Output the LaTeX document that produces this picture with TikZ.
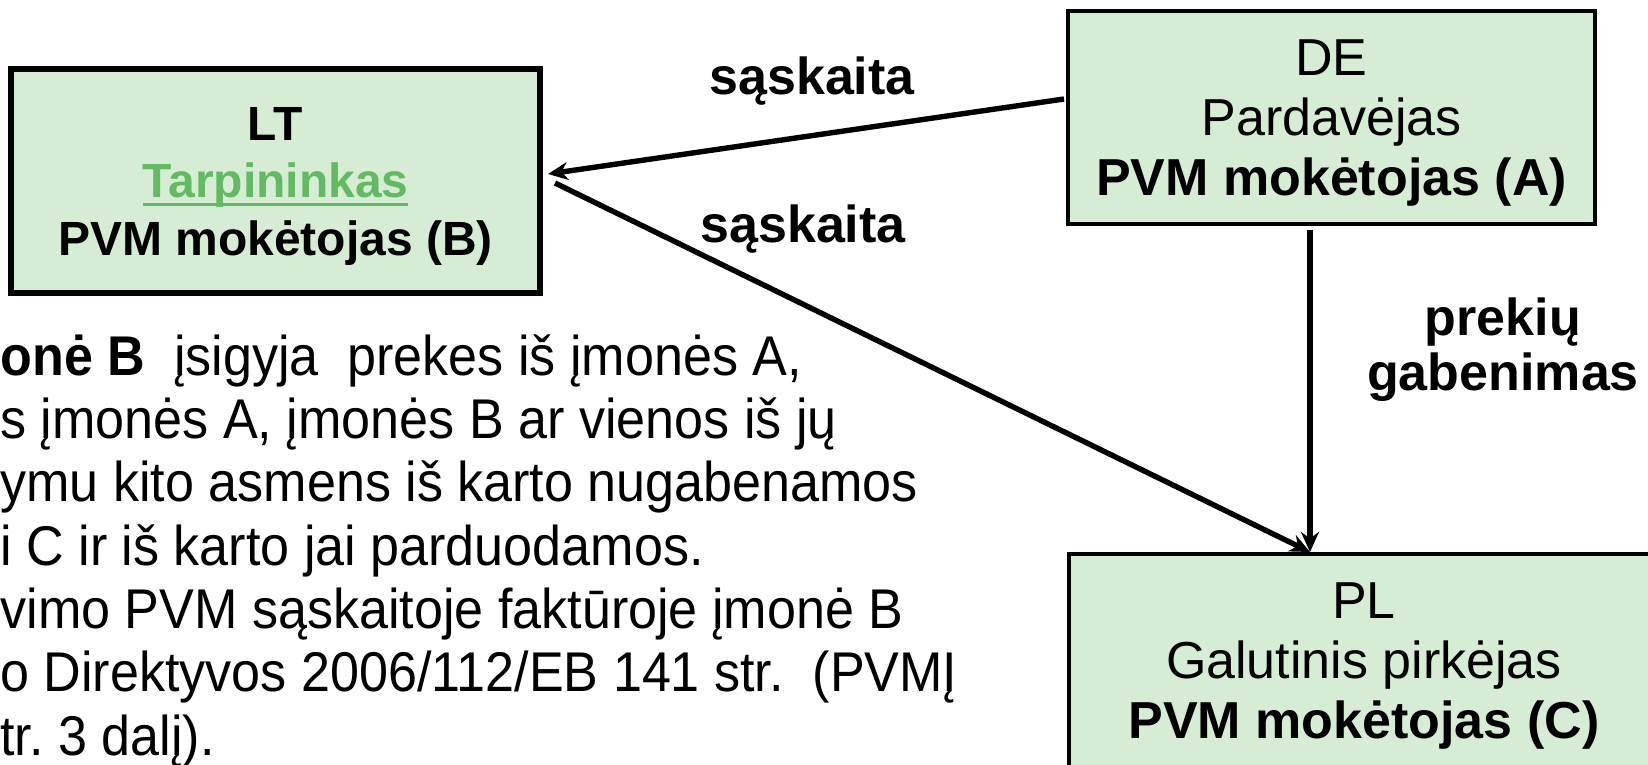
\documentclass[tikz,border=0pt]{standalone}
\usepackage{fontspec}
\setmainfont{Liberation Sans}
\newfontfamily\narrowfont[FakeStretch=0.93]{Liberation Sans}
\usetikzlibrary{arrows.meta}
\definecolor{boxgreen}{RGB}{214,236,212}
\definecolor{midgreen}{RGB}{98,187,98}
\newsavebox\ulbox
\newcommand\greenline[1]{\sbox\ulbox{#1}\rlap{\rule[-4pt]{\wd\ulbox}{1.5pt}}\usebox\ulbox}
\tikzset{
  party/.style={draw,fill=boxgreen,line width=2pt,align=center,inner sep=0pt,text depth=0pt,font=\fontsize{26}{30}\selectfont},
  flow/.style={line width=2.7pt,-{Stealth[length=10pt,width=9pt]}},
  tag/.style={font=\fontsize{26}{27.5}\selectfont\bfseries,inner sep=0pt,align=center},
  body/.style={font=\narrowfont\fontsize{28}{31.65}\selectfont,inner sep=0pt,anchor=base west}
}
\begin{document}
\frenchspacing
\begin{tikzpicture}[x=0.5pt,y=-0.5pt]
        \useasboundingbox (0,0) rectangle (1648,765);
        \clip (0,0) rectangle (1648,765);
        \node[party,line width=3pt,minimum width=264.5pt,minimum height=112pt,font=\fontsize{24}{28.75}\selectfont\bfseries] (lt) at (275.5,181) {LT\\{\color{midgreen}\greenline{Tarpininkas}}\\PVM mokėtojas (B)};
        \node[party,minimum width=263.5pt,minimum height=106.5pt] (de) at (1331.5,117.5) {DE\\Pardavėjas\\\textbf{PVM mokėtojas (A)}};
        \node[party,minimum width=295pt,minimum height=106.5pt] (pl) at (1364,660.5) {PL\\Galutinis pirkėjas\\\textbf{PVM mokėtojas (C)}};
        \coordinate (hit) at ([xshift=-10.75pt]de.south |- pl.north);
        \draw[flow] ([shift={(-1pt,9.25pt)}]de.west) -- ([shift={(2.5pt,3.5pt)}]lt.east);
        \draw[flow] ([shift={(6pt,-1pt)}]lt.east) -- (hit);
        \draw[flow] ([shift={(-10.75pt,-2pt)}]de.south) -- (hit);
        \node[tag,anchor=base] (bill1) at (812,95) {sąskaita};
        \node[tag,anchor=base] (bill2) at (803,242) {sąskaita};
        \node[tag,anchor=north] (ship) at (1503,297) {prekių\\gabenimas};
        \node[body] (p1) at (0,375) {\textbf{onė B}\ \ įsigyja\ \ prekes iš įmonės A,};
        \node[body] (p2) at (0,438) {s įmonės A, įmonės B ar vienos iš jų};
        \node[body] (p3) at (0,501) {ymu kito asmens iš karto nugabenamos};
        \node[body] (p4) at (0,565) {i C ir iš karto jai parduodamos.};
        \node[body] (p5) at (0,628) {vimo PVM sąskaitoje faktūroje įmonė B};
        \node[body] (p6) at (0,691) {o Direktyvos 2006/112/EB 141 str.\ \ (PVMĮ};
        \node[body] (p7) at (0,755) {tr. 3 dalį).};
    \end{tikzpicture}
\end{document}
